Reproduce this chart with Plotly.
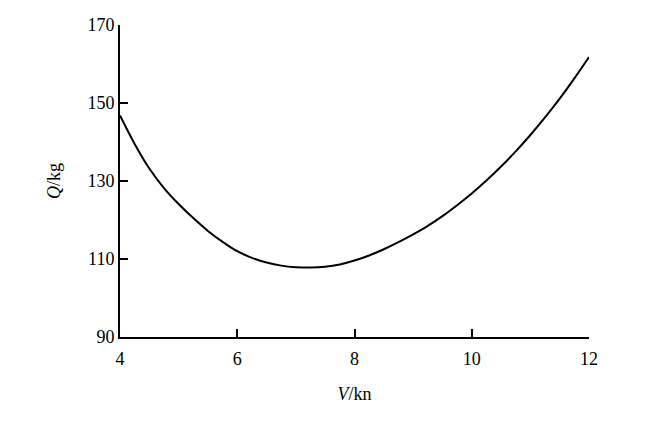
import plotly.graph_objects as go

speed_kn = [4.0, 4.25, 4.5, 4.75, 5.0, 5.25, 5.5, 5.75, 6.0, 6.25, 6.5, 6.75, 7.0, 7.25,
            7.5, 7.75, 8.0, 8.25, 8.5, 8.75, 9.0, 9.25, 9.5, 9.75, 10.0, 10.25, 10.5,
            10.75, 11.0, 11.25, 11.5, 11.75, 12.0]
fuel_kg = [146.8, 139.5, 133.2, 128.2, 124.1, 120.5, 117.2, 114.4, 112.0, 110.3, 109.1,
           108.3, 107.9, 107.8, 108.0, 108.6, 109.6, 110.9, 112.5, 114.3, 116.3, 118.5,
           121.0, 123.8, 126.8, 130.1, 133.7, 137.6, 141.8, 146.3, 151.1, 156.3, 161.8]

x_ticks = [4, 6, 8, 10, 12]
y_ticks = [90, 110, 130, 150, 170]

font_family = "Liberation Serif, Times New Roman, serif"

fig = go.Figure(
    go.Scatter(x=speed_kn, y=fuel_kg, mode="lines",
               line=dict(color="black", width=2, shape="spline", smoothing=0.8),
               showlegend=False, hoverinfo="skip")
)

axis_common = dict(
    showline=True, linecolor="black", linewidth=2,
    ticks="inside", ticklen=8, tickwidth=1.5, tickcolor="black",
    showgrid=False, zeroline=False, automargin=False,
    tickfont=dict(family=font_family, size=18, color="black"),
)

fig.update_xaxes(range=[4, 12], tickvals=x_ticks, ticktext=[str(v) for v in x_ticks],
                 title=dict(text="<i>V</i>/kn", font=dict(family=font_family, size=18, color="black"), standoff=20),
                 ticklabelstandoff=4, **axis_common)
fig.update_yaxes(range=[90, 170], tickvals=y_ticks, ticktext=[str(v) for v in y_ticks],
                 title=dict(text="<i>Q</i>/kg", font=dict(family=font_family, size=18, color="black"), standoff=22),
                 ticklabelstandoff=0, **axis_common)

# the page body has an 8px margin, so the figure is sized/offset to compensate
fig.update_layout(
    width=641, height=429,
    margin=dict(l=112, r=60, t=17, b=100, autoexpand=False),
    paper_bgcolor="white", plot_bgcolor="white",
    font=dict(family=font_family, color="black"),
)

fig.write_html("out.html")
